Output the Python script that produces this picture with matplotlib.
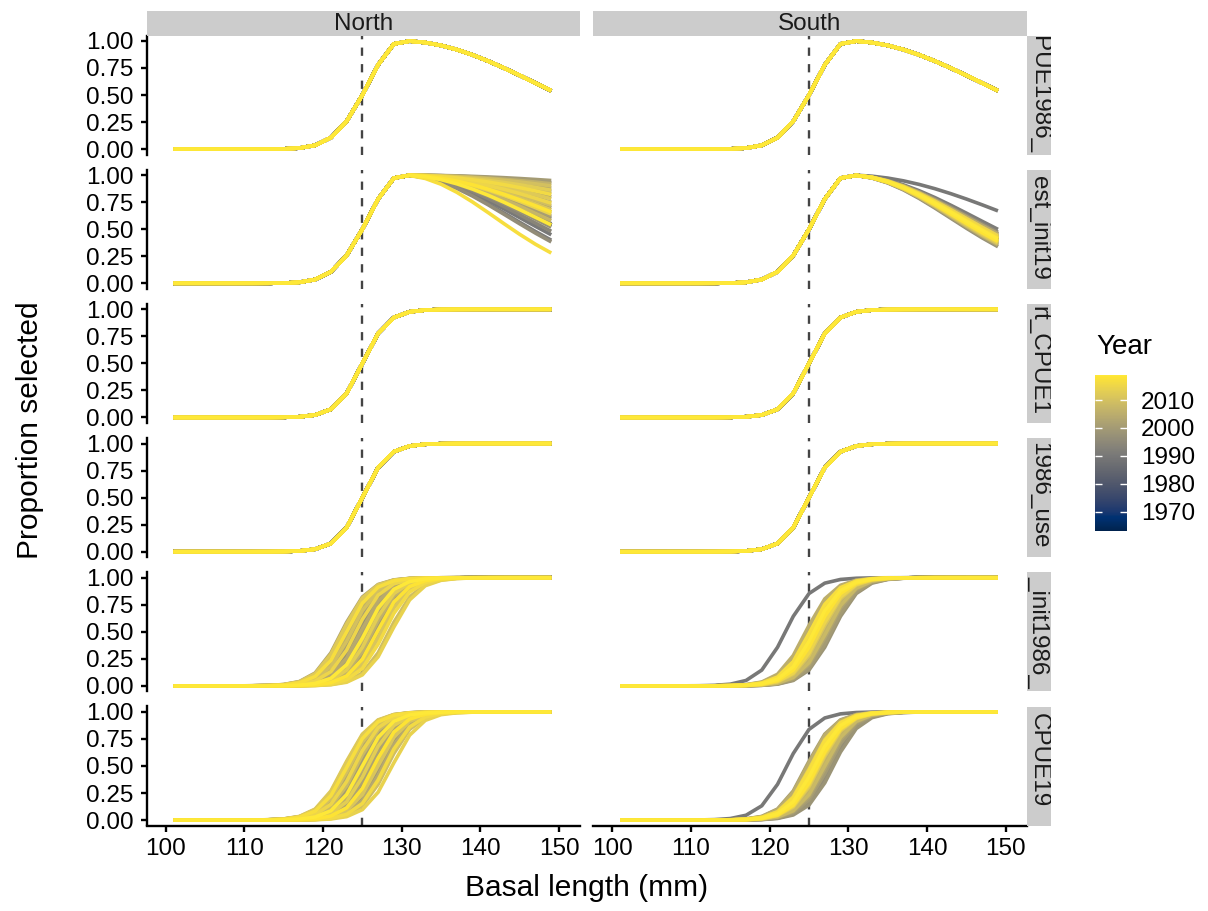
import numpy as np
import matplotlib
matplotlib.use("Agg")
import matplotlib.pyplot as plt
from matplotlib import colors, cm

plt.rcParams['font.family'] = ['Liberation Sans', 'DejaVu Sans']

# ---------------- data ----------------
regions = ["North", "South"]
# facet labels as visible (truncated by the strip) in the reference
models = ["PUE1986_", "est_init19", "rt_CPUE1", "1986_use", "_init1986_", "CPUE19"]
lengths = [101, 103, 105, 107, 109, 111, 113, 115, 117, 119, 121, 123, 125,
           127, 129, 131, 133, 135, 137, 139, 141, 143, 145, 147, 149]
year_first, year_est, year_last = 1963, 1990, 2019
colorbar_ticks = [1970, 1980, 1990, 2000, 2010]
vline_length = 125

# rows 1-2: domed double-normal selectivity (L50 = 125, ascending sd 4.25)
dome_l50, dome_sd_asc, dome_sd_desc = 125.0, 4.25, 17.1
# rows 3-6: logistic selectivity
flat_l50 = 125.0
slope_fixed = 1.6      # rows 3-4
slope_tv = 1.7         # rows 5-6

# row 2: descending-limb sd by year 1990..2019 (earlier years = final year)
north_sd_desc_tv = [15.0, 14.0, 17.4, 49.9, 15.7, 18.8, 13.7, 16.6, 33.3, 22.5,
                    59.3, 19.4, 28.4, 37.5, 20.8, 25.0, 46.5, 18.2, 31.1, 23.4,
                    41.4, 21.6, 27.0, 34.6, 20.1, 24.5, 30.2, 11.9, 20.8, 17.1]
south_sd_desc_tv = [21.2, 16.1, 15.2, 13.3, 14.8, 14.0, 15.5, 12.9, 14.4, 13.7,
                    15.0, 13.1, 14.6, 13.8, 15.2, 13.5, 14.2, 14.8, 13.3, 14.4,
                    13.8, 14.6, 13.5, 14.2, 13.7, 14.8, 14.0, 14.4, 13.8, 14.2]
# rows 5-6: L50 by year 1990..2019 (earlier years = final year)
north_l50_row5 = [124.0, 125.2, 123.4, 126.0, 124.6, 123.0, 125.8, 124.3, 122.6, 126.6,
                  123.8, 125.0, 122.4, 127.0, 124.8, 123.2, 126.3, 122.8, 125.5, 128.4,
                  123.6, 127.4, 122.5, 126.0, 128.7, 124.2, 127.8, 123.0, 126.9, 125.4]
north_l50_row6 = [124.4, 123.6, 125.9, 124.9, 123.2, 126.4, 124.1, 125.4, 123.0, 127.2,
                  124.6, 122.8, 126.0, 123.8, 127.6, 125.2, 122.9, 126.8, 124.3, 128.2,
                  123.4, 127.0, 122.7, 125.7, 128.8, 124.0, 127.9, 123.1, 126.5, 125.0]
south_l50_row5 = [122.0, 125.8, 126.5, 125.2, 127.0, 126.0, 127.6, 125.5, 128.0, 126.8,
                  127.8, 124.8, 126.3, 127.4, 125.6, 124.6, 126.9, 125.9, 127.2, 126.1,
                  125.3, 126.6, 125.7, 126.2, 125.4, 126.4, 125.9, 125.1, 126.0, 125.6]
south_l50_row6 = [122.2, 126.0, 126.3, 125.0, 127.2, 125.8, 127.8, 125.3, 128.1, 126.6,
                  127.5, 124.7, 126.5, 127.2, 125.4, 124.8, 126.7, 126.1, 127.0, 125.9,
                  125.5, 126.4, 125.6, 126.3, 125.2, 126.2, 125.8, 125.3, 126.1, 125.7]

years = np.arange(year_first, year_last + 1)
n_pre = year_est - year_first


def full_series(est_values):
    # years before estimation share the final-year curve (hidden beneath it)
    return [est_values[-1]] * n_pre + list(est_values)


def dome_sel(L, l50, sd_asc, sd_desc):
    L = np.asarray(L, dtype=float)
    peak = l50 + sd_asc * np.sqrt(2 * np.log(2))
    asc = np.exp(-(L - peak) ** 2 / (2 * sd_asc ** 2))
    desc = np.exp(-(L - peak) ** 2 / (2 * sd_desc ** 2))
    return np.where(L < peak, asc, desc)


def logistic_sel(L, l50, slope):
    L = np.asarray(L, dtype=float)
    return 1.0 / (1.0 + np.exp(-(L - l50) / slope))


def panel_curves(row, col):
    n = len(years)
    if row == 0:
        return [dome_sel(lengths, dome_l50, dome_sd_asc, dome_sd_desc)] * n
    if row == 1:
        tv = north_sd_desc_tv if col == 0 else south_sd_desc_tv
        return [dome_sel(lengths, dome_l50, dome_sd_asc, s) for s in full_series(tv)]
    if row in (2, 3):
        return [logistic_sel(lengths, flat_l50, slope_fixed)] * n
    if row == 4:
        tv = north_l50_row5 if col == 0 else south_l50_row5
    else:
        tv = north_l50_row6 if col == 0 else south_l50_row6
    return [logistic_sel(lengths, l, slope_tv) for l in full_series(tv)]

# ---------------- layout ----------------
W, H = 1208, 911
fig = plt.figure(figsize=(W / 100, H / 100), dpi=100)


def ax_px(x0, y0, x1, y1, **kw):
    return fig.add_axes([x0 / W, 1 - y1 / H, (x1 - x0) / W, (y1 - y0) / H], **kw)

col_x = [(146.7, 580.0), (593.3, 1026.7)]
row_top0, row_h, row_pitch = 35.5, 119.0, 134.2
strip_top = 11.0
rstrip_x = (1026.7, 1051.0)
# vertical shift (px, + = up) of each truncated right-strip label
rstrip_shift = [0, 1, 3, 2, 0, 6]

cmap = plt.get_cmap('cividis')
norm = colors.Normalize(vmin=year_first, vmax=year_last)

small_fs = 17.5
title_fs = 21.5
axis_lw = 1.7
tick_len = 4.3

for r in range(6):
    y0 = row_top0 + r * row_pitch
    y1 = y0 + row_h
    for c in range(2):
        x0, x1 = col_x[c]
        ax = ax_px(x0, y0, x1, y1)
        ax.set_xlim(97.6, 152.65)
        ax.set_ylim(-0.05, 1.05)
        ax.axvline(vline_length, color='#444444', lw=1.7, ls=(0, (3.5, 3.5)), zorder=1)
        for yr, sel in zip(years, panel_curves(r, c)):
            ax.plot(lengths, sel, color=cmap(norm(yr)), lw=2.6, solid_capstyle='butt',
                    solid_joinstyle='round', zorder=2)
        for s in ['top', 'right']:
            ax.spines[s].set_visible(False)
        ax.spines['left'].set_visible(c == 0)
        ax.spines['bottom'].set_visible(r == 5)
        for s in ['left', 'bottom']:
            ax.spines[s].set_linewidth(axis_lw)
        ax.set_yticks([0, 0.25, 0.5, 0.75, 1.0])
        ax.set_xticks([100, 110, 120, 130, 140, 150])
        ax.tick_params(axis='both', direction='out', length=tick_len, width=axis_lw,
                       labelsize=small_fs, colors='black')
        ax.tick_params(axis='y', pad=5)
        ax.tick_params(axis='x', pad=4.5)
        if c == 0:
            ax.set_yticklabels(['0.00', '0.25', '0.50', '0.75', '1.00'])
        else:
            ax.tick_params(axis='y', left=False, labelleft=False)
        if r != 5:
            ax.tick_params(axis='x', bottom=False, labelbottom=False)
        ax.patch.set_visible(False)
    # right strip
    sax = ax_px(rstrip_x[0], y0, rstrip_x[1], y1)
    sax.set_facecolor('#cccccc')
    sax.set_xticks([]); sax.set_yticks([])
    for s in sax.spines.values():
        s.set_visible(False)
    sax.text(0.5, 0.5 + rstrip_shift[r] / row_h, models[r], rotation=-90,
             ha='center', va='center', fontsize=small_fs, color='#1a1a1a',
             transform=sax.transAxes, clip_on=True)

# top strips
for c in range(2):
    x0, x1 = col_x[c]
    tax = ax_px(x0, strip_top, x1, row_top0)
    tax.set_facecolor('#cccccc')
    tax.set_xticks([]); tax.set_yticks([])
    for s in tax.spines.values():
        s.set_visible(False)
    tax.text(0.5, 0.45, regions[c], ha='center', va='center', fontsize=small_fs,
             color='#1a1a1a', transform=tax.transAxes)

# axis titles
fig.text(30 / W, 1 - 430.5 / H, 'Proportion selected', rotation=90, ha='center',
         va='center', fontsize=title_fs)
fig.text(586.7 / W, 1 - 888 / H, 'Basal length (mm)', ha='center', va='center',
         fontsize=title_fs)

# colour bar legend
fig.text(1096 / W, 1 - 347 / H, 'Year', ha='left', va='center', fontsize=20)
cax = ax_px(1095, 375, 1127, 531)
sm = cm.ScalarMappable(norm=norm, cmap=cmap)
cb = fig.colorbar(sm, cax=cax, ticks=colorbar_ticks)
cb.outline.set_visible(False)
cax.tick_params(axis='y', direction='in', length=5, width=1.0, colors='white',
                left=True, right=True, labelleft=False, labelright=True,
                labelsize=small_fs, labelcolor='black', pad=10)

fig.savefig('out.png', dpi=100)
